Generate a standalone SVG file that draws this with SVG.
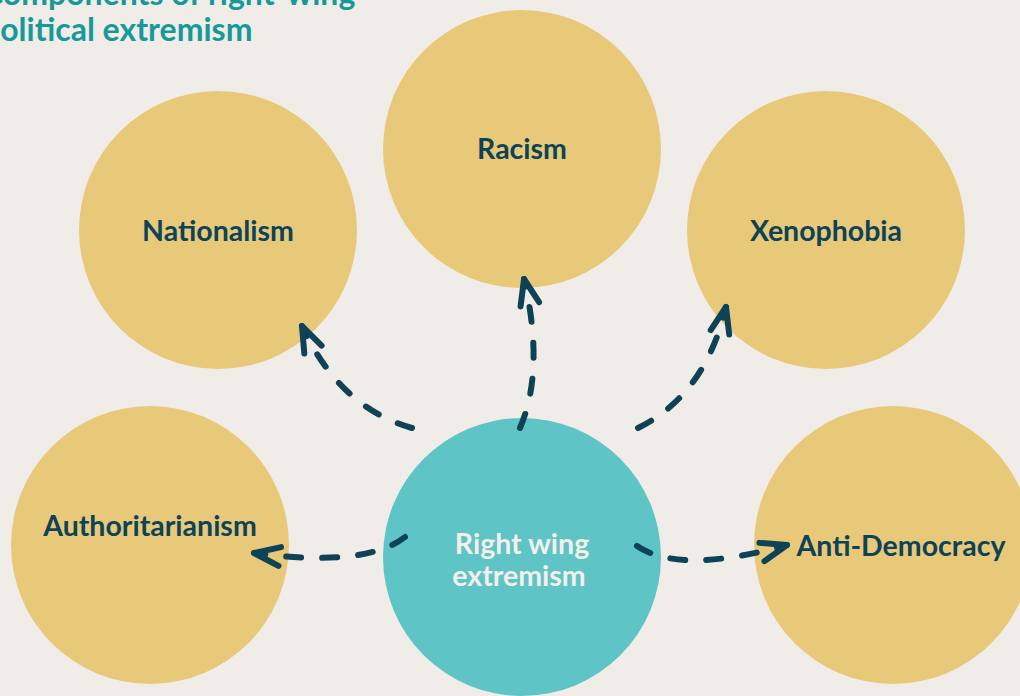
<svg xmlns="http://www.w3.org/2000/svg" width="1020" height="696" viewBox="0 0 1020 696">
<defs>
<style>
.bg{fill:#f0ede9}
.gold{fill:#e8c979}
.teal{fill:#5ec4c6}
.lbl{font-family:Lato,"Open Sans","Liberation Sans",sans-serif;font-weight:700;font-size:28.5px;fill:#0e4257;text-anchor:middle}
.clbl{font-family:Lato,"Open Sans","Liberation Sans",sans-serif;font-weight:700;font-size:28.5px;fill:#f3f0ea;text-anchor:middle}
.title{font-family:Lato,"Open Sans","Liberation Sans",sans-serif;font-weight:700;font-size:32px;fill:#17999a}
.conn{fill:none;stroke:#0e4257;stroke-width:6;stroke-linecap:round;stroke-dasharray:15 21}
</style>
<marker id="arr" markerUnits="userSpaceOnUse" markerWidth="40" markerHeight="40" refX="0" refY="0" viewBox="-30 -20 40 40" orient="auto" overflow="visible">
<path d="M-26,-9.5 L0,0 L-26,9.5" fill="none" stroke="#0e4257" stroke-width="6" stroke-linecap="round" stroke-linejoin="round"/>
</marker>
</defs>
<rect class="bg" x="0" y="0" width="1020" height="696"/>
<g id="title">
<text class="title" x="-18" y="5">Components of right-wing</text>
<text class="title" x="-18" y="41">political extremism</text>
</g>
<g id="node-racism"><circle class="gold" cx="522" cy="149" r="139"/><text class="lbl" x="522" y="159">Racism</text></g>
<g id="node-nationalism"><circle class="gold" cx="218" cy="230" r="139"/><text class="lbl" x="218" y="241">Nationalism</text></g>
<g id="node-xenophobia"><circle class="gold" cx="826" cy="230" r="139"/><text class="lbl" x="826" y="241">Xenophobia</text></g>
<g id="node-authoritarianism"><circle class="gold" cx="150" cy="545" r="139"/><text class="lbl" x="150" y="536">Authoritarianism</text></g>
<g id="node-antidemocracy"><circle class="gold" cx="893" cy="545" r="139"/><text class="lbl" x="901" y="556">Anti-Democracy</text></g>
<g id="node-center"><circle class="teal" cx="522" cy="557" r="139"/><text class="clbl" x="522" y="554">Right wing</text><text class="clbl" x="519" y="586">extremism</text></g>
<g id="connectors">
<path class="conn" d="M412,428 Q340,408 302,326" marker-end="url(#arr)"/>
<path class="conn" d="M520,428 Q545,370 524,279" marker-end="url(#arr)"/>
<path class="conn" d="M638,428 Q705,395 726,307" marker-end="url(#arr)"/>
<path class="conn" d="M405,537 Q365,568 254,553" marker-end="url(#arr)"/>
<path class="conn" d="M637,546 Q680,575 787,545" marker-end="url(#arr)"/>
</g>
</svg>
